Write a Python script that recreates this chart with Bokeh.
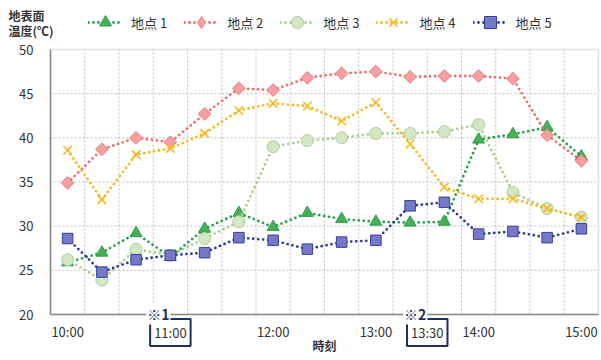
from bokeh.plotting import figure
from bokeh.models import Range1d, FixedTicker, Legend, LegendItem, Label, BoxAnnotation
from bokeh.embed import file_html
from bokeh.resources import INLINE
import numpy as np

# ---- data ----
minutes = [0, 20, 40, 60, 80, 100, 120, 140, 160, 180, 200, 220, 240, 260, 280, 300]
times = ["10:00", "10:20", "10:40", "11:00", "11:20", "11:40", "12:00", "12:20",
         "12:40", "13:00", "13:20", "13:40", "14:00", "14:20", "14:40", "15:00"]
site1 = [25.9, 27.0, 29.2, 26.5, 29.7, 31.5, 29.9, 31.5, 30.8, 30.5, 30.4, 30.5, 39.8, 40.4, 41.2, 37.9]
site2 = [34.9, 38.7, 40.0, 39.5, 42.7, 45.6, 45.4, 46.8, 47.3, 47.5, 46.9, 47.0, 47.0, 46.7, 40.3, 37.4]
site3 = [26.2, 23.9, 27.4, 26.7, 28.6, 30.5, 39.0, 39.7, 40.0, 40.5, 40.5, 40.7, 41.5, 33.8, 32.0, 31.0]
site4 = [38.6, 33.0, 38.1, 38.8, 40.5, 43.1, 43.9, 43.6, 41.9, 44.0, 39.3, 34.4, 33.1, 33.1, 32.0, 31.0]
site5 = [28.6, 24.8, 26.2, 26.7, 27.0, 28.7, 28.4, 27.4, 28.2, 28.4, 32.3, 32.7, 29.1, 29.4, 28.7, 29.7]
series_names = ["地点 1", "地点 2", "地点 3", "地点 4", "地点 5"]
x_tick_pos = [0, 120, 180, 240, 300]
x_tick_labels = ["10:00", "12:00", "13:00", "14:00", "15:00"]
boxed_pos = [60, 210]
boxed_labels = ["11:00", "13:30"]
notes = ["※1", "※2"]
y_ticks = [20, 25, 30, 35, 40, 45, 50]
y_grid = [25, 30, 35, 40, 45]
x_grid = [10, 30, 50, 70, 90, 110, 130, 150, 170, 190, 210, 230, 250, 270, 290]
x_lo, x_hi = -10, 310      # category bounds of the time axis
y_lo, y_hi = 20, 50

FONT = "Noto Sans CJK JP"
NAVY = "#1f2d5c"
W, H = 601, 360
# plot-area placement inside the canvas (px)
L, R, T, B = 50, 598, 49, 314
ppx = (R - L) / (x_hi - x_lo)
ppy = (B - T) / (y_hi - y_lo)

p = figure(width=W, height=H, output_backend="svg", toolbar_location=None,
           x_range=Range1d(x_lo - L / ppx, x_hi + (W - R) / ppx),
           y_range=Range1d(y_lo - (H - B) / ppy, y_hi + T / ppy),
           min_border=0, min_border_left=0, min_border_right=0,
           min_border_top=0, min_border_bottom=0)
p.background_fill_color = "white"
p.border_fill_color = "white"
p.outline_line_color = None
p.xgrid.visible = False
p.ygrid.visible = False

# axes fixed at the plot-area edges
p.xaxis.fixed_location = y_lo
p.yaxis.fixed_location = x_lo
p.xaxis.bounds = (x_lo, x_hi)
p.yaxis.bounds = (y_lo, y_hi)
p.xaxis.ticker = FixedTicker(ticks=x_tick_pos)
p.xaxis.major_label_overrides = {k: v for k, v in zip(x_tick_pos, x_tick_labels)}
p.yaxis.ticker = FixedTicker(ticks=y_ticks)
for ax in (p.xaxis, p.yaxis):
    ax.axis_line_color = "#808080"
    ax.axis_line_width = 1.5
    ax.major_tick_line_color = None
    ax.minor_tick_line_color = None
    ax.major_tick_out = 0
    ax.major_tick_in = 0
    ax.minor_tick_out = 0
    ax.major_label_text_font = FONT
    ax.major_label_text_font_size = "13px"
    ax.major_label_text_color = "#333333"
p.xaxis.major_label_standoff = 7
p.yaxis.major_label_standoff = 17
p.xaxis.axis_label = "時刻"
p.xaxis.axis_label_text_font = FONT
p.xaxis.axis_label_text_font_style = "bold"
p.xaxis.axis_label_text_font_size = "12px"
p.xaxis.axis_label_text_color = "#333333"
p.xaxis.axis_label_standoff = -7

# dashed grid lines inside the plot area
p.segment(x0=x_grid, y0=[y_lo] * len(x_grid), x1=x_grid, y1=[y_hi] * len(x_grid),
          line_color="#bdbdbd", line_dash="2 2", line_width=1)
p.segment(x0=[x_lo] * len(y_grid), y0=y_grid, x1=[x_hi] * len(y_grid), y1=y_grid,
          line_color="#bdbdbd", line_dash="2 2", line_width=1)
# plot-area frame
p.add_layout(BoxAnnotation(left=x_lo, right=x_hi, bottom=y_lo, top=y_hi,
                           fill_alpha=0, line_color="#a0a0a0", line_width=1.5))

styles = [
    dict(data=site1, line="#22a348", marker="triangle", leg="triangle", size=12, fill="#45b058", mline="#2f9e48", angle=0.0),
    dict(data=site2, line="#f26a6a", marker="square", leg="diamond", size=9, fill="#f5a0a0", mline="#ee7b7b", angle=np.pi / 4),
    dict(data=site3, line="#a8d08c", marker="circle", leg="circle", size=12, fill="#d3e7c5", mline="#a9cf90", angle=0.0),
    dict(data=site4, line="#fbb61e", marker="x", leg="x", size=12, fill="#fbb61e", mline="#fbb61e", angle=0.0),
    dict(data=site5, line="#2b3a9c", marker="square", leg="square", size=10.5, fill="#7679c6", mline="#34409e", angle=0.0),
]

items = []
for name, st in zip(series_names, styles):
    lw = 1.6 if st["marker"] == "x" else 1.0
    ln = p.line(minutes, st["data"], line_color=st["line"], line_width=2.8,
                line_dash="0 5", line_cap="round")
    leg_sc = None
    if st["leg"] != st["marker"]:
        # legend-shaped marker, hidden beneath the rotated squares in the plot
        leg_sc = p.scatter(minutes, st["data"], marker=st["leg"], size=11,
                           fill_color=st["fill"], line_color=st["mline"], line_width=lw)
    sc = p.scatter(minutes, st["data"], marker=st["marker"], size=st["size"],
                   fill_color=st["fill"], line_color=st["mline"], angle=st["angle"],
                   line_width=lw)
    items.append(LegendItem(label=name, renderers=[ln, leg_sc if leg_sc is not None else sc]))

legend = Legend(items=items, orientation="horizontal", location=(88, H - 22 - 15),
                glyph_width=34, glyph_height=30, label_standoff=9, spacing=17,
                padding=0, margin=0, border_line_alpha=0, background_fill_alpha=0,
                label_text_font=FONT, label_text_font_size="13px",
                label_text_color="#333333", label_height=20)
p.add_layout(legend, "center")

# y-axis title (two lines, top-left)
p.add_layout(Label(x=8, y=H - 6, x_units="screen", y_units="screen", text="地表面",
                   text_align="left", text_baseline="top", text_font=FONT,
                   text_font_size="12px", text_font_style="bold", text_color="#333333"))
p.add_layout(Label(x=8, y=H - 21, x_units="screen", y_units="screen", text="温度(℃)",
                   text_align="left", text_baseline="top", text_font=FONT,
                   text_font_size="12px", text_font_style="bold", text_color="#333333"))

# boxed tick labels and notes
for pos, txt, note in zip(boxed_pos, boxed_labels, notes):
    p.add_layout(Label(x=pos, y=H - 332, y_units="screen", text=txt, text_align="center",
                       text_baseline="middle", text_font=FONT, text_font_size="13px",
                       text_color="#333333", border_line_color=NAVY, border_line_width=2,
                       background_fill_color="white", padding=4))
    p.add_layout(Label(x=pos, y=H - 313, y_units="screen", x_offset=-12, text=note,
                       text_align="center", text_baseline="middle", text_font=FONT,
                       text_font_size="14px", text_font_style="bold", text_color=NAVY,
                       background_fill_color="white", padding=1))

open("out.html", "w").write(file_html(p, INLINE))
